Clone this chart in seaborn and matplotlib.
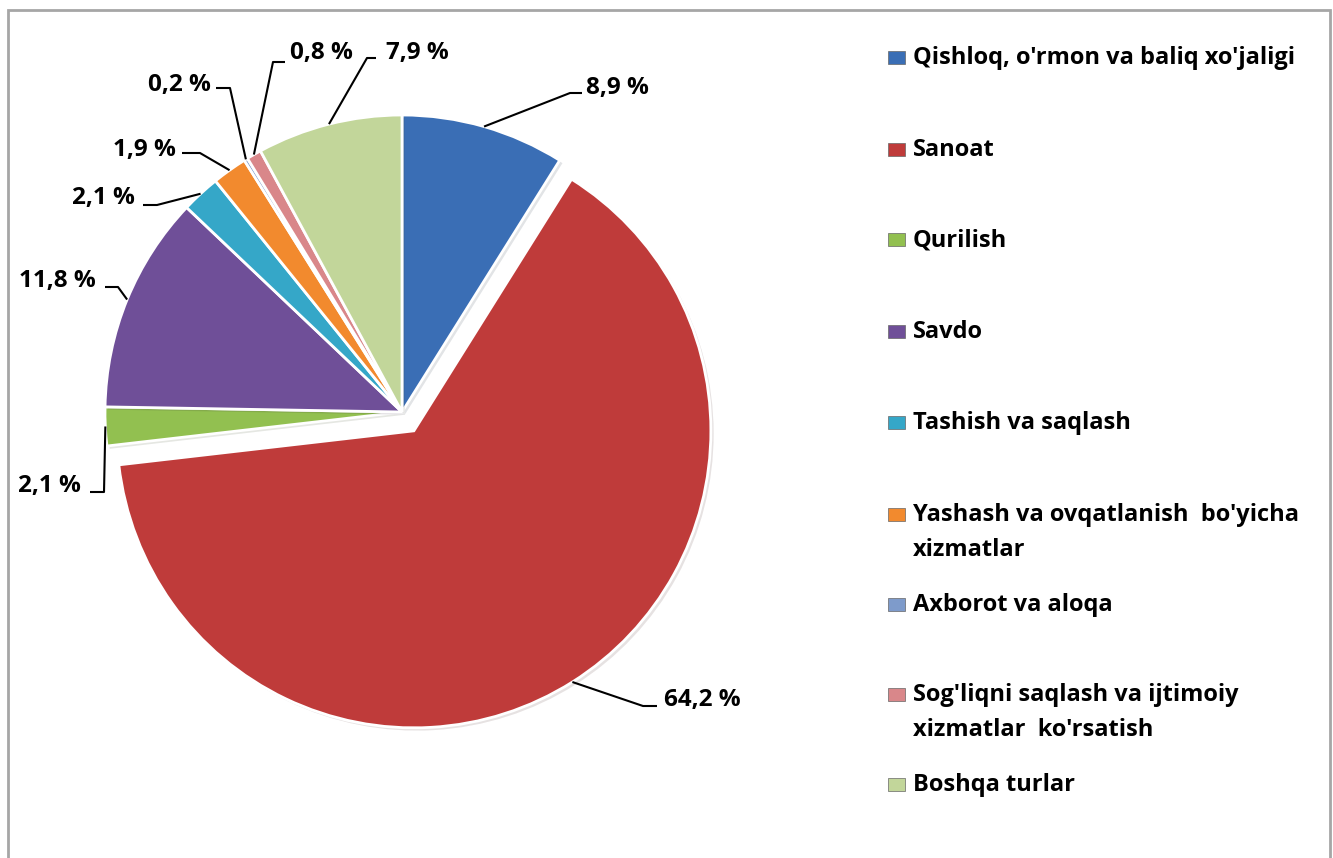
import matplotlib
matplotlib.use("Agg")
import matplotlib.pyplot as plt
import matplotlib.patheffects as pe
import numpy as np
import seaborn as sns

# 1. seaborn style first, then fonts (set_style resets font.family)
sns.set_style("white")
plt.rcParams['font.family'] = ['Open Sans', 'DejaVu Sans']
plt.rcParams['font.weight'] = 'bold'

# data
sectors = [
    "Qishloq, o'rmon va baliq xo'jaligi",
    "Sanoat",
    "Qurilish",
    "Savdo",
    "Tashish va saqlash",
    "Yashash va ovqatlanish  bo'yicha\nxizmatlar",
    "Axborot va aloqa",
    "Sog'liqni saqlash va ijtimoiy\nxizmatlar  ko'rsatish",
    "Boshqa turlar",
]
shares = [8.9, 64.2, 2.1, 11.8, 2.1, 1.9, 0.2, 0.8, 7.9]
colors = ["#3A6EB5", "#BF3B3A", "#92C050", "#6F4F98", "#35A7C8",
          "#F28A2E", "#7E9BCB", "#D9878A", "#C2D69A"]
explode = [0.0, 0.075, 0.0, 0.0, 0.0, 0.0, 0.0, 0.0, 0.0]

# layout of the value labels (pixel positions on the 1333x858 canvas)
label_xy = [(617, 88), (702, 700), (49, 486), (57, 281), (103, 198),
            (144, 150), (179, 85), (321, 53), (417, 53)]
elbow_xy = [(570, 93), (643, 706), (104, 492), (118, 287), (157, 205),
            (200, 153), (230, 88), (273, 62), (367, 58)]
end_xy = [(582, 93), (657, 706), (90, 492), (105, 287), (143, 205),
          (182, 153), (216, 88), (285, 62), (376, 58)]
legend_y = [58, 150, 240, 332, 423, 515, 605, 695, 785]

W, H = 1333, 858
CX, CY, R = 402, 412, 297


def P(px, py):
    # canvas pixel -> data units (pie radius = 1)
    return (px - CX) / R, (CY - py) / R


fig = plt.figure(figsize=(W / 100, H / 100), dpi=100)
ax = fig.add_axes([0, 0, 1, 1])

wedges, _ = ax.pie(shares, colors=colors, explode=explode, startangle=90,
                   counterclock=False, radius=1.0,
                   wedgeprops=dict(edgecolor="white", linewidth=2.0))
for w in wedges:
    w.set_path_effects([pe.SimplePatchShadow(offset=(2, -2), alpha=0.12),
                        pe.Normal()])

# value labels with leader lines
for w, v, lxy, exy, nxy in zip(wedges, shares, label_xy, elbow_xy, end_xy):
    mid = np.deg2rad((w.theta1 + w.theta2) / 2)
    cx, cy = w.center
    ax_, ay_ = cx + w.r * np.cos(mid), cy + w.r * np.sin(mid)
    ex, ey = P(*exy)
    nx, ny = P(*nxy)
    ax.plot([ax_, ex, nx], [ay_, ey, ny], color="black", lw=1.5,
            solid_capstyle="butt", zorder=5)
    tx, ty = P(*lxy)
    txt = f"{v:.1f}".replace(".", ",") + " %"
    ax.text(tx, ty, txt, ha="center", va="center", fontsize=17.5,
            fontweight="bold", color="black")

# legend drawn on the right
for name, col, ly in zip(sectors, colors, legend_y):
    x0, y0 = P(888, ly + 6)
    x1, y1 = P(905, ly - 7)
    ax.add_patch(plt.Rectangle((x0, y0), x1 - x0, y1 - y0, facecolor=col,
                               edgecolor="#666666", lw=0.5))
    for k, line in enumerate(name.split("\n")):
        tx, ty = P(913, ly + 35 * k)
        ax.text(tx, ty, line, ha="left", va="center", fontsize=17,
                fontweight="bold", color="black")

ax.set_xlim(P(0, 0)[0], P(W, 0)[0])
ax.set_ylim(P(0, H)[1], P(0, 0)[1])
ax.set_aspect("auto")
ax.axis("off")

# outer chart border
fig.patches.append(plt.Rectangle((8 / W, -0.1), (1330 - 8) / W, 1.1 - 10 / H,
                                 transform=fig.transFigure, fill=False,
                                 edgecolor="#A6A6A6", lw=2))

fig.savefig("out.png", dpi=100)
